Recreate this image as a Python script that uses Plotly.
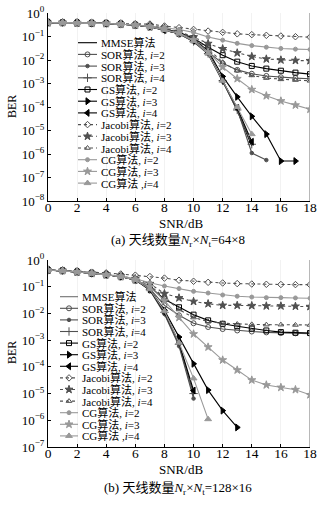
import plotly.graph_objects as go

snr = list(range(19))
x_ticks = [0, 2, 4, 6, 8, 10, 12, 14, 16, 18]

names = ["MMSE算法", "SOR算法, <i>i</i>=2", "SOR算法, <i>i</i>=3", "SOR算法, <i>i</i>=4",
         "GS算法, <i>i</i>=2", "GS算法, <i>i</i>=3", "GS算法, <i>i</i>=4",
         "Jacobi算法, <i>i</i>=2", "Jacobi算法, <i>i</i>=3", "Jacobi算法, <i>i</i>=4",
         "CG算法, <i>i</i>=2", "CG算法, <i>i</i>=3", "CG算法 ,<i>i</i>=4"]

# (a) 64x8
mmse_a = [0.39, 0.39, 0.38, 0.37, 0.36, 0.34, 0.31, 0.26, 0.19, 0.13, 0.062, 0.019, 1.3e-3, 7e-5, 2.2e-6]
sor2_a = [0.39, 0.39, 0.38, 0.37, 0.36, 0.34, 0.31, 0.26, 0.2, 0.14, 0.075, 0.022, 7.2e-3, 3.8e-3, 2.6e-3, 2.1e-3, 1.85e-3, 1.7e-3, 1.6e-3]
sor3_a = [0.39, 0.39, 0.38, 0.37, 0.36, 0.34, 0.31, 0.26, 0.19, 0.13, 0.06, 0.018, 1.2e-3, 8e-5, 1.1e-6, 5.5e-7]
sor4_a = [0.39, 0.39, 0.38, 0.37, 0.36, 0.34, 0.31, 0.26, 0.19, 0.13, 0.062, 0.019, 1.3e-3, 7.5e-5, 2.6e-6]
gs2_a = [0.39, 0.39, 0.38, 0.37, 0.36, 0.34, 0.31, 0.26, 0.21, 0.15, 0.085, 0.035, 0.016, 8.5e-3, 5.6e-3, 4.3e-3, 3.5e-3, 2.9e-3, 2.5e-3]
gs3_a = [0.39, 0.39, 0.38, 0.37, 0.36, 0.34, 0.31, 0.26, 0.2, 0.14, 0.075, 0.025, 2e-3, 2.7e-4, 4e-5, 7e-6, 5e-7, 5e-7]
gs4_a = [0.39, 0.39, 0.38, 0.37, 0.36, 0.34, 0.31, 0.26, 0.19, 0.135, 0.066, 0.02, 1.3e-3, 9e-5, 3.3e-6]
jac2_a = [0.39, 0.39, 0.38, 0.37, 0.36, 0.35, 0.345, 0.34, 0.28, 0.237, 0.2, 0.17, 0.15, 0.13, 0.12, 0.112, 0.105, 0.098, 0.094]
jac3_a = [0.39, 0.39, 0.38, 0.37, 0.36, 0.34, 0.31, 0.29, 0.23, 0.16, 0.095, 0.05, 0.03, 0.02, 0.014, 0.011, 0.01, 0.0095, 0.0093]
jac4_a = [0.39, 0.39, 0.38, 0.37, 0.36, 0.34, 0.31, 0.28, 0.22, 0.15, 0.085, 0.03, 8e-3, 3.5e-3, 2.2e-3, 1.7e-3, 1.5e-3, 1.4e-3, 1.3e-3]
cg2_a = [0.39, 0.39, 0.38, 0.37, 0.36, 0.34, 0.31, 0.28, 0.24, 0.2, 0.15, 0.095, 0.07, 0.051, 0.041, 0.035, 0.031, 0.029, 0.028]
cg3_a = [0.39, 0.39, 0.38, 0.37, 0.36, 0.34, 0.31, 0.26, 0.2, 0.14, 0.072, 0.022, 5e-3, 1.6e-3, 5.5e-4, 3e-4, 1.8e-4, 1.2e-4, 8e-5]
cg4_a = [0.39, 0.39, 0.38, 0.37, 0.36, 0.34, 0.31, 0.26, 0.19, 0.135, 0.065, 0.019, 1.3e-3, 1e-4, 7e-6]

# (b) 128x16
mmse_b = [0.42, 0.4, 0.36, 0.32, 0.28, 0.24, 0.18, 0.075, 0.01, 7e-4, 8e-6]
sor2_b = [0.42, 0.4, 0.36, 0.32, 0.28, 0.24, 0.18, 0.085, 0.02, 8.5e-3, 4.3e-3, 3.1e-3, 2.6e-3, 2.3e-3, 2.1e-3, 1.95e-3, 1.85e-3, 1.8e-3, 1.75e-3]
sor3_b = [0.42, 0.4, 0.36, 0.32, 0.28, 0.24, 0.18, 0.074, 0.0095, 6e-4, 6.5e-6]
sor4_b = [0.42, 0.4, 0.36, 0.32, 0.28, 0.24, 0.18, 0.077, 0.011, 7e-4, 1e-5]
gs2_b = [0.42, 0.4, 0.36, 0.32, 0.28, 0.24, 0.18, 0.1, 0.034, 0.017, 9e-3, 5.5e-3, 4.1e-3, 3.3e-3, 2.7e-3, 2.3e-3, 2e-3, 1.9e-3, 1.85e-3]
gs3_b = [0.42, 0.4, 0.36, 0.32, 0.28, 0.24, 0.18, 0.08, 0.013, 1.3e-3, 1.3e-4, 1.35e-5, 2.3e-6, 5.4e-7]
gs4_b = [0.42, 0.4, 0.36, 0.32, 0.28, 0.24, 0.18, 0.078, 0.011, 8e-4, 1.3e-5]
jac2_b = [0.42, 0.4, 0.37, 0.35, 0.33, 0.3, 0.27, 0.24, 0.21, 0.175, 0.16, 0.146, 0.138, 0.131, 0.126, 0.123, 0.121, 0.12, 0.119]
jac3_b = [0.42, 0.4, 0.36, 0.32, 0.29, 0.25, 0.2, 0.13, 0.055, 0.038, 0.028, 0.023, 0.02, 0.02, 0.0195, 0.019, 0.019, 0.0185, 0.018]
jac4_b = [0.42, 0.4, 0.36, 0.32, 0.28, 0.24, 0.19, 0.11, 0.04, 0.014, 7e-3, 5e-3, 4.3e-3, 4e-3, 3.9e-3, 3.8e-3, 3.8e-3, 3.7e-3, 3.7e-3]
cg2_b = [0.42, 0.4, 0.36, 0.32, 0.29, 0.25, 0.2, 0.14, 0.106, 0.085, 0.067, 0.058, 0.049, 0.044, 0.041, 0.039, 0.039, 0.038, 0.037]
cg3_b = [0.42, 0.4, 0.36, 0.32, 0.28, 0.24, 0.18, 0.1, 0.03, 7e-3, 1.7e-3, 5.5e-4, 1.8e-4, 7.6e-5, 3.2e-5, 2.1e-5, 1.7e-5, 1.4e-5, 9e-6]
cg4_b = [0.42, 0.4, 0.36, 0.32, 0.28, 0.24, 0.18, 0.08, 0.012, 8e-4, 3.7e-5, 1.1e-6]

series_a = [mmse_a, sor2_a, sor3_a, sor4_a, gs2_a, gs3_a, gs4_a, jac2_a, jac3_a, jac4_a, cg2_a, cg3_a, cg4_a]
series_b = [mmse_b, sor2_b, sor3_b, sor4_b, gs2_b, gs3_b, gs4_b, jac2_b, jac3_b, jac4_b, cg2_b, cg3_b, cg4_b]

DK = "#505050"
LG = "#999999"
styles = [
    dict(color="#000000", dash="solid", symbol=None, size=0),
    dict(color=DK, dash="solid", symbol="circle-open", size=5),
    dict(color=DK, dash="solid", symbol="circle", size=3.5),
    dict(color=DK, dash="solid", symbol="cross-thin-open", size=6),
    dict(color="#000000", dash="solid", symbol="square-open", size=5),
    dict(color="#000000", dash="solid", symbol="triangle-right", size=6),
    dict(color="#000000", dash="solid", symbol="triangle-left", size=6),
    dict(color=DK, dash="dot", symbol="diamond-open", size=5),
    dict(color=DK, dash="dot", symbol="star", size=6),
    dict(color=DK, dash="dot", symbol="triangle-up-open", size=5),
    dict(color=LG, dash="solid", symbol="circle", size=4),
    dict(color=LG, dash="solid", symbol="star", size=6),
    dict(color=LG, dash="solid", symbol="triangle-up", size=6),
]

W, H = 323, 505
fig = go.Figure()

def add_series(series, xa, ya, mmse_color):
    for k, (vals, st) in enumerate(zip(series, styles)):
        color = mmse_color if k == 0 else st["color"]
        mode = "lines" if st["symbol"] is None else "lines+markers"
        fig.add_trace(go.Scatter(
            x=snr[:len(vals)], y=vals, mode=mode, xaxis=xa, yaxis=ya,
            line=dict(color=color, width=1.1, dash=st["dash"]),
            marker=dict(symbol=st["symbol"] or "circle", size=st["size"], color=color,
                        line=dict(color=color, width=1)),
            showlegend=False, hoverinfo="skip"))

add_series(series_a, "x", "y", "#000000")
add_series(series_b, "x2", "y2", "#707070")

# hand-made legends in pixel coordinates (overlay axes x3/y3)
def add_legend(x0, x1, ytop, step, mmse_color):
    for k, (nm, st) in enumerate(zip(names, styles)):
        yy = ytop + k * step
        color = mmse_color if k == 0 else st["color"]
        fig.add_trace(go.Scatter(x=[x0, x1], y=[yy, yy], mode="lines", xaxis="x3", yaxis="y3",
                                 line=dict(color=color, width=1.1, dash=st["dash"]),
                                 showlegend=False, hoverinfo="skip"))
        if st["symbol"]:
            fig.add_trace(go.Scatter(x=[(x0 + x1) / 2], y=[yy], mode="markers", xaxis="x3", yaxis="y3",
                                     marker=dict(symbol=st["symbol"], size=st["size"], color=color,
                                                 line=dict(color=color, width=1)),
                                     showlegend=False, hoverinfo="skip"))
        fig.add_annotation(x=x1 + 2, y=yy, xref="x3", yref="y3", text=nm, showarrow=False,
                           xanchor="left", yanchor="middle",
                           font=dict(size=11, color="#000000"))

add_legend(78, 97, 42.7, 11.7, "#000000")
add_legend(60, 78, 296.7, 11.6, "#707070")

FONT = "Liberation Serif, Times New Roman, Noto Sans CJK SC, serif"
xd = [48 / W, 310 / W]
ya_dom = [1 - 201 / H, 1 - 13 / H]
yb_dom = [1 - 447 / H, 1 - 260 / H]

def yticks(lo):
    vals = [10 ** e for e in range(lo, 1)]
    txt = ["10<sup>%s</sup>" % (str(e).replace("-", "−")) for e in range(lo, 1)]
    return vals, txt

va, ta = yticks(-8)
vb, tb = yticks(-7)

xcommon = dict(range=[0, 18], tickvals=x_ticks, ticks="inside", ticklen=3, tickcolor="#000",
               showline=True, linecolor="#000", linewidth=1, showgrid=True, gridcolor="#f2f2f2",
               zeroline=False, automargin=False, ticklabelstandoff=-6,
               tickfont=dict(size=13.5, color="#000"))
ycommon = dict(type="log", ticks="inside", ticklen=3, tickcolor="#000", showline=True,
               linecolor="#000", linewidth=1, showgrid=False, zeroline=False, automargin=False,
               tickfont=dict(size=13, color="#000"))

fig.update_layout(
    template="none",
    width=W, height=H, margin=dict(l=0, r=0, t=0, b=0, pad=0, autoexpand=False),
    paper_bgcolor="white", plot_bgcolor="rgba(0,0,0,0)",
    font=dict(family=FONT, color="#000"),
    xaxis=dict(domain=xd, anchor="y", **xcommon),
    yaxis=dict(domain=ya_dom, anchor="x", range=[-8, 0], tickvals=va, ticktext=ta, **ycommon),
    xaxis2=dict(domain=xd, anchor="y2", **xcommon),
    yaxis2=dict(domain=yb_dom, anchor="x2", range=[-7, 0], tickvals=vb, ticktext=tb, **ycommon),
    xaxis3=dict(domain=[0, 1], range=[0, W], visible=False, anchor="y3", automargin=False),
    yaxis3=dict(domain=[0, 1], range=[H, 0], visible=False, anchor="x3", automargin=False),
)

# right frame lines
for xr, yr in [("x", "y domain"), ("x2", "y2 domain")]:
    fig.add_shape(type="line", xref=xr, yref=yr, x0=18, x1=18, y0=0, y1=1,
                  line=dict(color="#a0a0a0", width=1.5))

def ann(x, y, text, size, angle=0):
    fig.add_annotation(x=x / W, y=1 - y / H, xref="paper", yref="paper", text=text,
                       showarrow=False, textangle=angle, font=dict(size=size, color="#000"),
                       xanchor="center", yanchor="middle")

ann(12, 107, "BER", 12, -90)
ann(12, 353, "BER", 12, -90)
ann(181, 224, "SNR/dB", 13)
ann(181, 469, "SNR/dB", 13)
ann(178, 240, "(a) 天线数量<i>N</i><sub>r</sub>×<i>N</i><sub>t</sub>=64×8", 13)
ann(178, 488, "(b) 天线数量<i>N</i><sub>r</sub>×<i>N</i><sub>t</sub>=128×16", 13)

fig.write_html("out.html", config={"displayModeBar": False, "staticPlot": True},
               post_script="document.body.style.margin='0';document.body.style.overflow='hidden';")
